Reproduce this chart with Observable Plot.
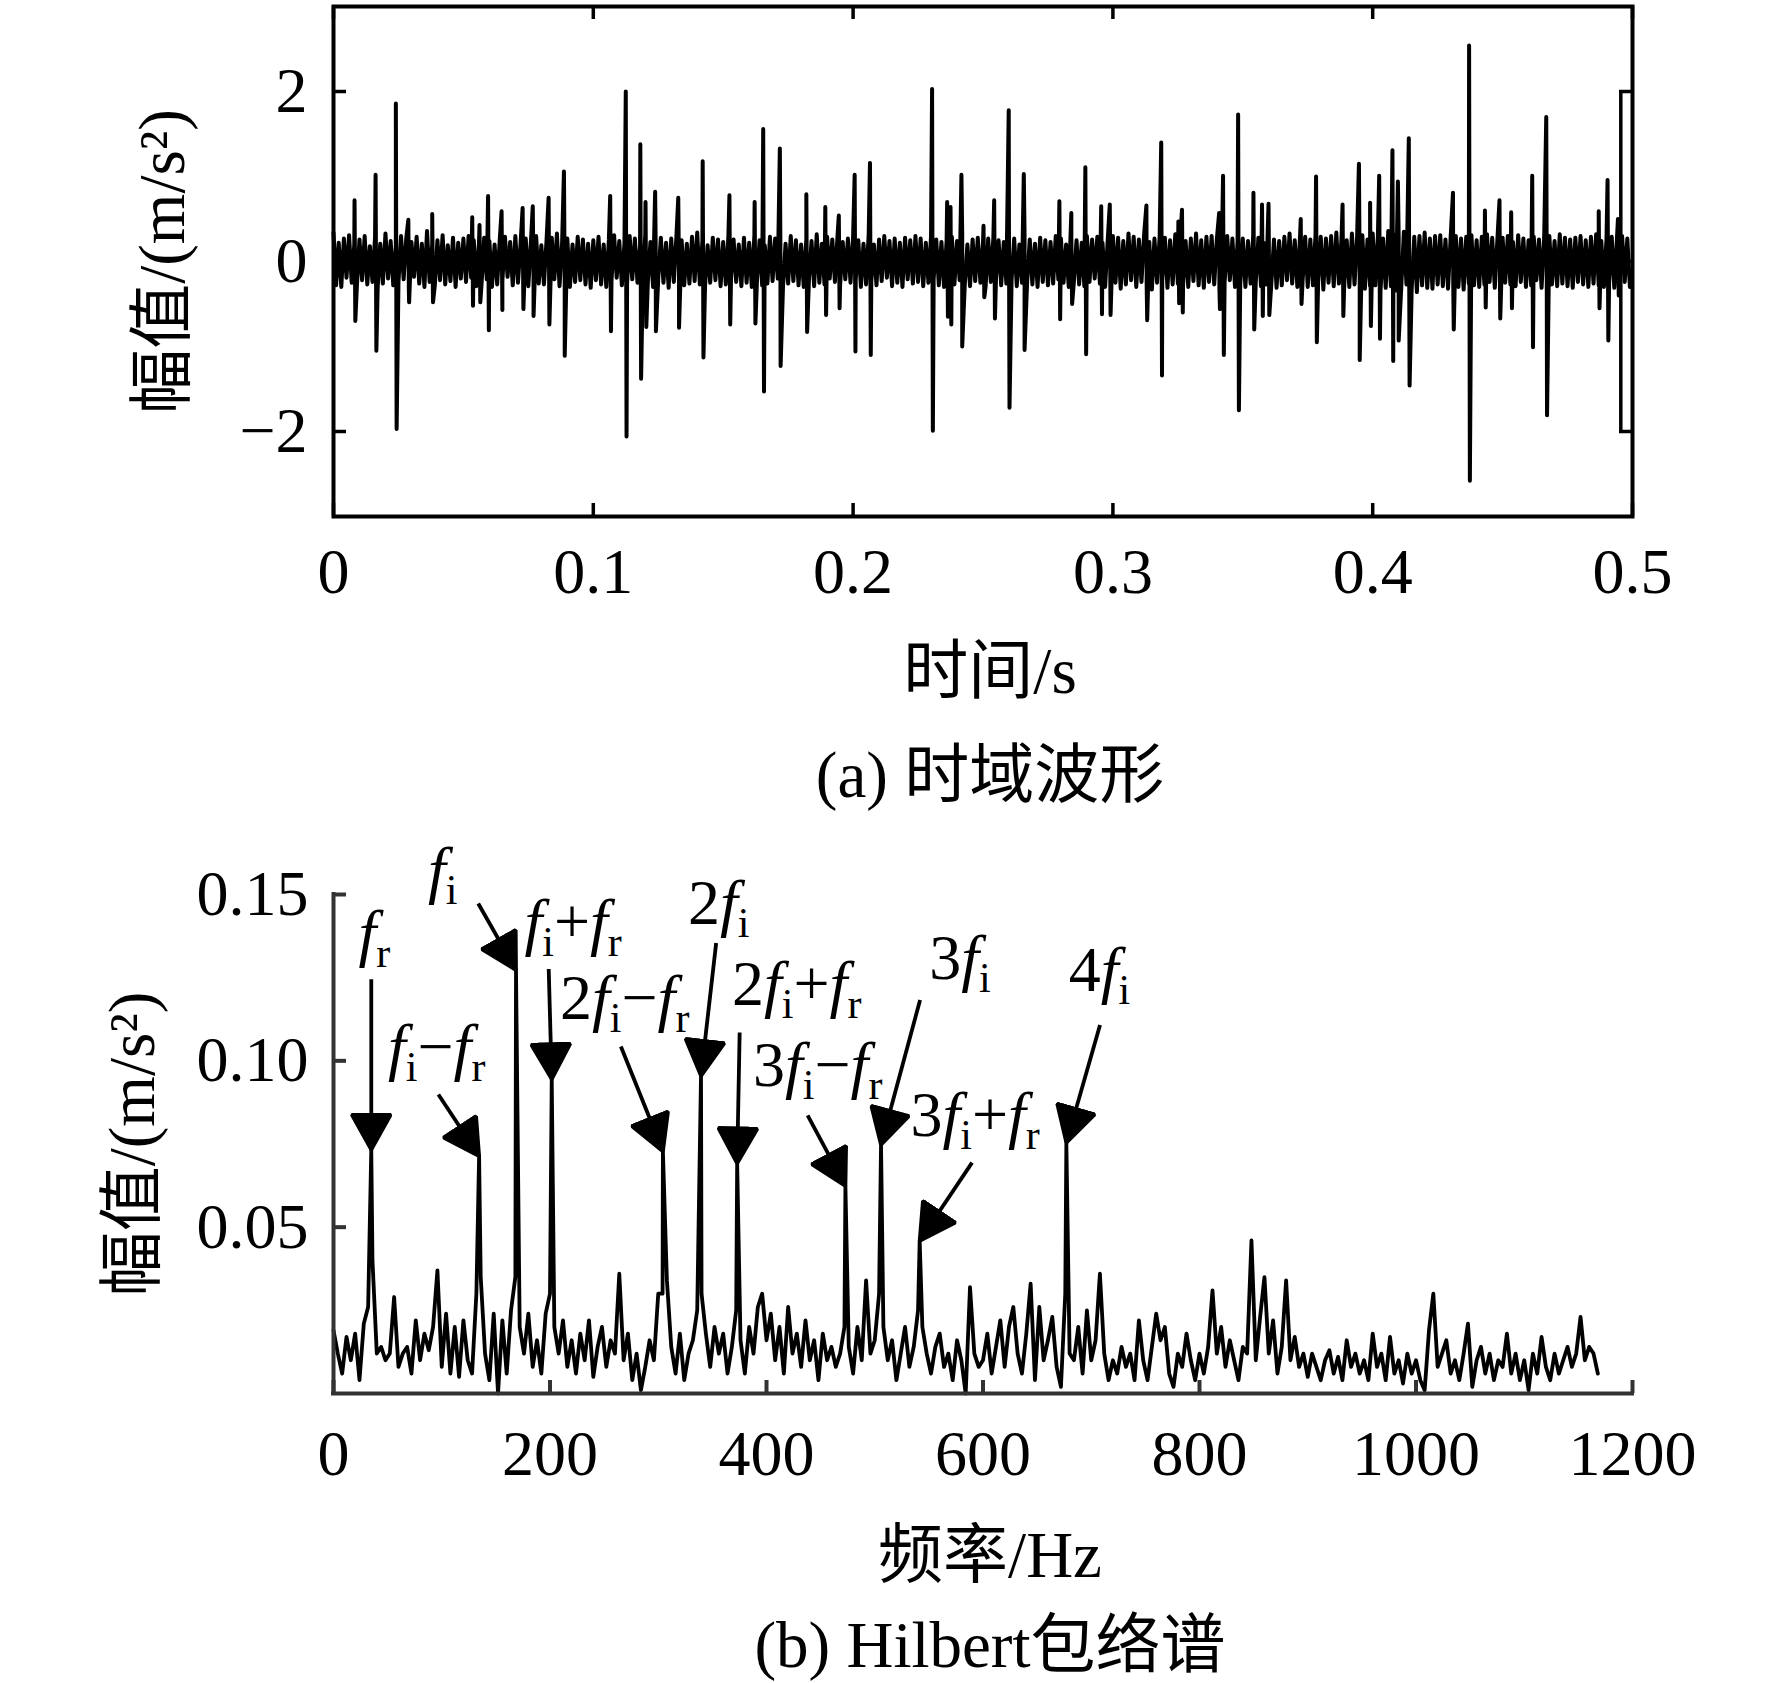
<!DOCTYPE html>
<html><head><meta charset="utf-8">
<script src="https://cdn.jsdelivr.net/npm/d3@7"></script>
<script src="https://cdn.jsdelivr.net/npm/@observablehq/plot@0.6"></script>
<style>
html,body{margin:0;padding:0;background:#fff;}
#page{position:relative;width:1772px;height:1683px;background:#fff;overflow:hidden;font-family:'Liberation Serif','Noto Sans CJK SC',serif;color:#000;}
#top{position:absolute;left:0;top:0;}
#bottom{position:absolute;left:0;top:815px;}
.cap{position:absolute;left:0;width:1980px;text-align:center;font-size:65px;line-height:65px;white-space:nowrap;}
</style></head><body>
<div id="page">
  <div id="top"></div>
  <div class="cap" style="top:743px">(a) 时域波形</div>
  <div id="bottom"></div>
  <div class="cap" style="top:1613px">(b) Hilbert包络谱</div>
</div>
<script>
// ---------- panel (a): time-domain waveform ----------
const timeTicks = [0, 0.1, 0.2, 0.3, 0.4, 0.5];
const timeTickLabels = ["0", "0.1", "0.2", "0.3", "0.4", "0.5"];
const ampTicks = [-2, 0, 2];
const ampTickLabels = ["\u22122", "0", "2"];
const noiseStep = 0.001; // s per sample of the background band
const noise = [
 0.34,-0.28,0.22,-0.3,0.27,-0.19,0.31,-0.25,0.2,-0.29,0.26,-0.22,0.3,-0.27,0.18,-0.24,0.29,-0.31,0.21,-0.26,0.33,-0.2,0.24,-0.28,0.19,
 -0.25,0.3,-0.21,0.27,-0.32,0.23,-0.18,0.29,-0.26,0.21,-0.3,0.36,-0.24,0.2,-0.28,0.25,-0.22,0.31,-0.27,0.19,-0.23,0.28,-0.3,0.22,-0.2,
 0.27,-0.24,0.3,-0.19,0.25,-0.29,0.22,-0.26,0.28,-0.21,0.24,-0.3,0.2,-0.27,0.26,-0.23,0.29,-0.18,0.23,-0.28,0.3,-0.25,0.21,-0.22,0.27,
 -0.29,0.24,-0.2,0.3,-0.26,0.19,-0.27,0.25,-0.23,0.28,-0.21,0.33,-0.29,0.22,-0.25,0.27,-0.3,0.2,-0.24,0.29,-0.22,0.26,-0.27,0.21,-0.31,
 0.25,-0.22,0.29,-0.27,0.2,-0.3,0.26,-0.23,0.31,-0.19,0.24,-0.28,0.22,-0.26,0.3,-0.21,0.27,-0.25,0.19,-0.29,0.32,-0.24,0.23,-0.3,0.26,
 -0.2,0.28,-0.25,0.22,-0.31,0.27,-0.24,0.3,-0.2,0.25,-0.28,0.21,-0.26,0.29,-0.23,0.34,-0.27,0.24,-0.3,0.19,-0.25,0.28,-0.22,0.26,-0.29,
 0.23,-0.27,0.3,-0.21,0.26,-0.24,0.2,-0.29,0.28,-0.25,0.22,-0.3,0.31,-0.22,0.25,-0.28,0.19,-0.26,0.29,-0.23,0.27,-0.2,0.24,-0.31,0.21,
 -0.26,0.3,-0.23,0.25,-0.28,0.2,-0.3,0.27,-0.22,0.24,-0.29,0.32,-0.25,0.21,-0.27,0.29,-0.2,0.26,-0.24,0.3,-0.28,0.23,-0.21,0.27,-0.25,
 0.29,-0.22,0.25,-0.3,0.21,-0.27,0.32,-0.24,0.2,-0.28,0.26,-0.23,0.3,-0.19,0.24,-0.29,0.27,-0.25,0.22,-0.3,0.28,-0.21,0.25,-0.26,0.3,
 -0.24,0.27,-0.29,0.22,-0.25,0.3,-0.21,0.26,-0.28,0.23,-0.3,0.25,-0.2,0.29,-0.27,0.24,-0.22,0.31,-0.26,0.2,-0.29,0.26,-0.23,0.28,-0.25,
 0.22,-0.3,0.27,-0.24,0.29,-0.2,0.25,-0.28,0.23,-0.26,0.3,-0.22,0.27,-0.29,0.2,-0.25,0.31,-0.23,0.26,-0.27,0.21,-0.3,0.28,-0.24,0.25,
 -0.28,0.23,-0.26,0.3,-0.21,0.27,-0.25,0.2,-0.3,0.28,-0.23,0.25,-0.27,0.22,-0.29,0.3,-0.24,0.26,-0.2,0.29,-0.26,0.22,-0.3,0.25,-0.22,
 0.3,-0.25,0.28,-0.32,0.24,-0.27,0.33,-0.22,0.29,-0.3,0.26,-0.24,0.31,-0.28,0.23,-0.33,0.27,-0.25,0.3,-0.22,0.28,-0.31,0.25,-0.27,0.32,
 -0.26,0.31,-0.29,0.24,-0.3,0.27,-0.23,0.33,-0.28,0.25,-0.31,0.29,-0.24,0.3,-0.27,0.26,-0.32,0.28,-0.25,0.3,-0.22,0.27,-0.3,0.24,-0.28,
 0.27,-0.3,0.24,-0.26,0.31,-0.23,0.28,-0.29,0.22,-0.27,0.3,-0.25,0.26,-0.31,0.24,-0.28,0.29,-0.22,0.33,-0.26,0.25,-0.3,0.27,-0.24,0.29,
 -0.3,0.26,-0.28,0.32,-0.24,0.29,-0.33,0.27,-0.25,0.3,-0.29,0.34,-0.26,0.28,-0.31,0.25,-0.3,0.33,-0.27,0.29,-0.24,0.31,-0.32,0.26,-0.29,
 0.33,-0.28,0.3,-0.35,0.27,-0.31,0.36,-0.29,0.32,-0.34,0.28,-0.3,0.35,-0.27,0.31,-0.33,0.29,-0.36,0.3,-0.28,0.34,-0.31,0.27,-0.32,0.3,
 -0.27,0.31,-0.29,0.26,-0.32,0.28,-0.25,0.3,-0.3,0.27,-0.33,0.29,-0.26,0.31,-0.28,0.25,-0.3,0.29,-0.27,0.32,-0.24,0.28,-0.31,0.26,-0.29,
 0.28,-0.25,0.3,-0.27,0.23,-0.29,0.31,-0.24,0.27,-0.3,0.25,-0.28,0.29,-0.22,0.26,-0.31,0.28,-0.25,0.3,-0.27,0.24,-0.29,0.32,-0.26,0.28,
 -0.29,0.26,-0.31,0.28,-0.24,0.3,-0.27,0.25,-0.3,0.29,-0.26,0.32,-0.28,0.24,-0.3,0.27,-0.25,0.29,-0.31,0.26,-0.28,0.3,-0.24,0.27,-0.3
];
const spikeT = [0.0081,0.0162,0.0240,0.0288,0.0380,0.0534,0.0562,0.0595,0.0647,0.0728,0.0767,0.0828,0.0887,0.1065,0.1125,0.1181,0.1201,0.1238,0.1327,0.1421,0.1524,0.1621,0.1654,0.1718,0.1820,0.1893,0.1945,0.2006,0.2065,0.2304,0.2362,0.2375,0.2417,0.2502,0.2543,0.2599,0.2657,0.2794,0.2840,0.2894,0.2955,0.2988,0.3129,0.3186,0.3252,0.3266,0.3409,0.3424,0.3482,0.3541,0.3574,0.3599,0.3723,0.3782,0.3884,0.3947,0.3990,0.4025,0.4076,0.4097,0.4139,0.4309,0.4371,0.4432,0.4488,0.4533,0.4614,0.4668,0.4870,0.4904,0.4944];
const spikePeak = [0.72,1.02,1.86,0.49,0.56,0.52,0.43,0.77,0.59,0.63,0.65,0.75,1.06,0.77,2.0,1.38,0.70,0.82,0.75,1.18,0.78,0.70,1.56,1.33,0.79,0.64,0.54,1.02,1.16,2.03,0.70,0.64,1.02,0.42,0.72,1.78,1.03,0.71,0.57,1.11,0.65,0.67,0.66,1.40,0.47,0.61,0.57,1.01,1.73,0.81,0.67,0.68,0.50,1.0,0.67,1.15,0.69,1.01,1.31,0.94,1.45,0.81,2.54,0.60,0.72,0.58,1.01,1.70,0.59,0.96,0.50];
const spikeTrough = [-0.70,-1.05,-1.97,-0.48,-0.48,-0.52,-0.48,-0.81,-0.57,-0.56,-0.64,-0.74,-1.11,-0.82,-2.06,-1.38,-0.77,-0.82,-0.78,-1.13,-0.74,-0.73,-1.53,-1.23,-0.83,-0.63,-0.55,-1.06,-1.10,-1.99,-0.65,-0.74,-1.0,-0.42,-0.67,-1.72,-1.04,-0.68,-0.50,-1.09,-0.62,-0.63,-0.69,-1.34,-0.49,-0.60,-0.56,-1.10,-1.75,-0.80,-0.64,-0.63,-0.50,-0.95,-0.64,-1.16,-0.76,-0.91,-1.17,-0.93,-1.46,-0.80,-2.58,-0.54,-0.67,-0.55,-1.01,-1.81,-0.55,-0.93,-0.40];
const artifactT = [0.4955]; // vertical stroke seen near the right frame

// ---------- panel (b): Hilbert envelope spectrum ----------
const freqTicks = [0, 200, 400, 600, 800, 1000, 1200];
const freqTickLabels = ["0", "200", "400", "600", "800", "1000", "1200"];
const specTicks = [0.05, 0.10, 0.15];
const specTickLabels = ["0.05", "0.10", "0.15"];
const specStep = 4; // Hz per value below
const spectrum = [
 0.019,0.012,0.006,0.017,0.010,0.018,0.004,0.021,0.026,0.040,0.012,0.014,0.010,0.012,0.029,0.008,0.012,0.014,0.006,0.022,0.010,0.018,0.013,0.020,0.037,
 0.008,0.024,0.006,0.020,0.005,0.022,0.010,0.006,0.030,0.035,0.012,0.004,0.024,0.000,0.022,0.006,0.025,0.035,0.020,0.012,0.024,0.008,0.016,0.006,0.024,
 0.030,0.020,0.012,0.022,0.008,0.016,0.006,0.018,0.010,0.022,0.005,0.014,0.020,0.008,0.016,0.012,0.036,0.010,0.018,0.004,0.012,0.001,0.008,0.016,0.010,
 0.030,0.030,0.034,0.014,0.006,0.018,0.004,0.012,0.016,0.025,0.030,0.018,0.008,0.020,0.012,0.018,0.006,0.014,0.025,0.016,0.006,0.020,0.012,0.026,0.030,
 0.016,0.024,0.010,0.020,0.006,0.026,0.012,0.018,0.008,0.022,0.010,0.016,0.004,0.018,0.010,0.014,0.008,0.012,0.020,0.014,0.006,0.020,0.010,0.034,0.012,
 0.016,0.030,0.020,0.010,0.016,0.004,0.012,0.020,0.008,0.014,0.025,0.020,0.012,0.006,0.014,0.018,0.008,0.012,0.004,0.016,0.010,0.000,0.032,0.012,0.008,
 0.010,0.018,0.006,0.014,0.022,0.008,0.020,0.026,0.012,0.006,0.018,0.033,0.004,0.026,0.010,0.016,0.023,0.008,0.002,0.030,0.012,0.010,0.020,0.006,0.025,
 0.010,0.016,0.036,0.012,0.004,0.010,0.006,0.014,0.008,0.012,0.004,0.022,0.010,0.004,0.014,0.024,0.016,0.020,0.006,0.002,0.012,0.008,0.018,0.010,0.004,
 0.012,0.006,0.014,0.031,0.012,0.020,0.008,0.016,0.010,0.004,0.014,0.012,0.046,0.010,0.023,0.035,0.012,0.022,0.006,0.014,0.034,0.010,0.017,0.008,0.012,
 0.005,0.012,0.008,0.004,0.010,0.013,0.006,0.011,0.004,0.016,0.008,0.012,0.006,0.010,0.004,0.018,0.008,0.012,0.004,0.017,0.006,0.010,0.003,0.012,0.006,
 0.010,0.004,0.001,0.019,0.030,0.008,0.012,0.016,0.006,0.010,0.004,0.012,0.021,0.002,0.010,0.014,0.006,0.012,0.004,0.010,0.008,0.018,0.006,0.012,0.004,
 0.010,0.001,0.012,0.006,0.017,0.008,0.004,0.012,0.006,0.010,0.014,0.008,0.012,0.023,0.010,0.014,0.012,0.006
];
const peakF = [34.9, 134.5, 168.6, 201.6, 304.3, 339.5, 372.9, 472.9, 505.8, 541.5, 677];
const peakA = [0.0733, 0.0714, 0.1273, 0.0945, 0.0728, 0.0955, 0.0692, 0.0624, 0.0748, 0.0459, 0.0754];
const labelText = ["f_r", "f_i\u2212f_r", "f_i", "f_i+f_r", "2f_i\u2212f_r", "2f_i", "2f_i+f_r", "3f_i\u2212f_r", "3f_i", "3f_i+f_r", "4f_i"];
const labelF = [23, 50.4, 87.2, 176.4, 209.3, 327.5, 368.2, 387.6, 550.4, 533, 679.2];
const labelA = [0.132, 0.0978, 0.151, 0.1354, 0.1126, 0.1411, 0.1168, 0.0924, 0.1245, 0.0774, 0.1209];
const arrowF0 = [34.9, 96.9, 133.7, 198.8, 265.5, 353.5, 375.2, 438, 541.9, 589.9, 708.1];
const arrowA0 = [0.1245, 0.0899, 0.1473, 0.1276, 0.1043, 0.1354, 0.1085, 0.0836, 0.1183, 0.0694, 0.1108];

// ---------- build ----------
const FONT = "'Liberation Serif','Noto Sans CJK SC',serif";
const W = 1772, ML = 333, MR = 140;
const PW = W - ML - MR;
const TICK = 13;

const wave = noise.map((v, i) => ({t: i * noiseStep, a: v}));
spikeT.forEach((t, k) => {
  wave.push({t, a: spikePeak[k]});
  wave.push({t: t + 0.0003, a: spikeTrough[k]});
});
wave.sort((p, q) => p.t - q.t);

const spec = spectrum.map((v, i) => ({f: i * specStep, a: v}));
peakF.forEach((f, k) => spec.push({f, a: peakA[k]}));
spec.sort((p, q) => p.f - q.f);

const NS = "http://www.w3.org/2000/svg";
function headMarker(color, context) {
  const doc = (context && context.document) || document;
  const m = doc.createElementNS(NS, "marker");
  m.setAttribute("viewBox", "-37 -21 38 42");
  m.setAttribute("markerWidth", 38);
  m.setAttribute("markerHeight", 42);
  m.setAttribute("markerUnits", "userSpaceOnUse");
  m.setAttribute("refX", 0);
  m.setAttribute("refY", 0);
  m.setAttribute("orient", "auto");
  const p = doc.createElementNS(NS, "path");
  p.setAttribute("d", "M0,0L-35,-19.5L-35,19.5Z");
  p.setAttribute("fill", color || "black");
  m.appendChild(p);
  return m;
}

// Panel (a)
const TH = 720, TMT = 6, TMB = 204, TPH = TH - TMT - TMB;
const topPlot = Plot.plot({
  width: W, height: TH, marginLeft: ML, marginRight: MR, marginTop: TMT, marginBottom: TMB,
  style: {fontFamily: FONT, fontSize: "64px", background: "white", color: "black"},
  x: {domain: [0, 0.5], label: null},
  y: {domain: [-3, 3], label: null},
  marks: [
    Plot.line(wave, {x: "t", y: "a", stroke: "black", strokeWidth: 4}),
    Plot.ruleX(artifactT, {x: d => d, y1: -2, y2: 2, stroke: "black", strokeWidth: 3.5}),
    Plot.ruleY(ampTicks, {y: d => d, insetRight: PW - TICK, stroke: "black", strokeWidth: 3.5}),
    Plot.ruleY(ampTicks, {y: d => d, insetLeft: PW - TICK, stroke: "black", strokeWidth: 3.5}),
    Plot.ruleX(timeTicks, {x: d => d, insetTop: TPH - TICK, stroke: "black", strokeWidth: 3.5}),
    Plot.ruleX(timeTicks, {x: d => d, insetBottom: TPH - TICK, stroke: "black", strokeWidth: 3.5}),
    Plot.frame({stroke: "black", strokeWidth: 4}),
    Plot.axisX(timeTicks, {tickSize: 0, tickPadding: 31, fontSize: 64,
      tickFormat: d => timeTickLabels[timeTicks.indexOf(d)], label: null}),
    Plot.axisY(ampTicks, {tickSize: 0, tickPadding: 26, fontSize: 64,
      tickFormat: d => ampTickLabels[ampTicks.indexOf(d)], label: null}),
    Plot.text(["时间/s"], {text: d => d, frameAnchor: "bottom", dx: 7, dy: 156,
      lineAnchor: "middle", textAnchor: "middle", fontSize: 65}),
    Plot.text(["幅值/(m/s\u00b2)"], {text: d => d, frameAnchor: "left", dx: -170, rotate: -90,
      lineAnchor: "middle", textAnchor: "middle", fontSize: 65})
  ]
});
document.getElementById("top").appendChild(topPlot);

// Panel (b)
const BH = 790, BMT = 79, BMB = 212, BPH = BH - BMT - BMB;
const idx = peakF.map((_, i) => i);
const bottomPlot = Plot.plot({
  width: W, height: BH, marginLeft: ML, marginRight: MR, marginTop: BMT, marginBottom: BMB,
  style: {fontFamily: FONT, fontSize: "64px", background: "white", color: "black", overflow: "visible"},
  x: {domain: [0, 1200], label: null},
  y: {domain: [0, 0.15], label: null},
  marks: [
    Plot.line(spec, {x: "f", y: "a", stroke: "black", strokeWidth: 3.8}),
    Plot.ruleX([0], {x: d => d, y1: 0, y2: 0.15, stroke: "#333", strokeWidth: 4, strokeLinecap: "square"}),
    Plot.ruleY([0], {y: d => d, x1: 0, x2: 1200, stroke: "#333", strokeWidth: 4, strokeLinecap: "square"}),
    Plot.ruleY(specTicks, {y: d => d, insetRight: PW - TICK, stroke: "#333", strokeWidth: 4}),
    Plot.ruleX(freqTicks, {x: d => d, insetTop: BPH - TICK, stroke: "#333", strokeWidth: 4}),
    Plot.axisX(freqTicks, {tickSize: 0, tickPadding: 36, fontSize: 64,
      tickFormat: d => freqTickLabels[freqTicks.indexOf(d)], label: null}),
    Plot.axisY(specTicks, {tickSize: 0, tickPadding: 25, fontSize: 64,
      tickFormat: d => specTickLabels[specTicks.indexOf(d)], label: null}),
    Plot.link(idx, {x1: i => arrowF0[i], y1: i => arrowA0[i], x2: i => peakF[i], y2: i => peakA[i],
      stroke: "black", strokeWidth: 3.8, markerEnd: headMarker}),
    Plot.text(idx, {x: i => labelF[i], y: i => labelA[i], text: i => labelText[i],
      textAnchor: "start", lineAnchor: "bottom", fontSize: 64}),
    Plot.text(["频率/Hz"], {text: d => d, frameAnchor: "bottom", dx: 7, dy: 163,
      lineAnchor: "middle", textAnchor: "middle", fontSize: 65}),
    Plot.text(["幅值/(m/s\u00b2)"], {text: d => d, frameAnchor: "left", dx: -200, rotate: -90,
      lineAnchor: "middle", textAnchor: "middle", fontSize: 65})
  ]
});
document.getElementById("bottom").appendChild(bottomPlot);

// Rich text for the peak labels: italic f, subscripts i / r
const SUB_SIZE = 42, SUB_DY = 13;
bottomPlot.querySelectorAll("text").forEach(el => {
  const s = el.textContent;
  if (!s.includes("_")) return;
  while (el.firstChild) el.removeChild(el.firstChild);
  let lowered = false;
  for (let k = 0; k < s.length; k++) {
    const ts = document.createElementNS(NS, "tspan");
    if (s[k] === "_") {
      k++;
      ts.textContent = s[k];
      ts.setAttribute("font-size", SUB_SIZE);
      ts.setAttribute("dy", lowered ? 0 : SUB_DY);
      lowered = true;
    } else {
      ts.textContent = s[k];
      if (lowered) { ts.setAttribute("dy", -SUB_DY); lowered = false; }
      if (s[k] === "f") ts.setAttribute("font-style", "italic");
    }
    el.appendChild(ts);
  }
});
</script>
</body></html>
